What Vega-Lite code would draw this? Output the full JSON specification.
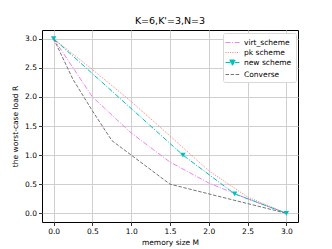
{
  "$schema": "https://vega.github.io/schema/vega-lite/v6.json",
  "width": 256,
  "height": 192,
  "autosize": {"type": "none"},
  "padding": {"left": 42, "top": 30, "right": 34, "bottom": 27},
  "background": "white",
  "title": {"text": "K=6,K'=3,N=3", "fontSize": 9.5, "fontWeight": "normal", "font": "DejaVu Sans", "color": "#000", "offset": 5},
  "config": {
    "view": {"stroke": "#000", "strokeWidth": 1},
    "axis": {
      "domain": false,
      "grid": true,
      "gridColor": "#cfcfcf",
      "gridWidth": 1,
      "tickColor": "#000",
      "tickSize": 3.5,
      "tickWidth": 0.8,
      "labelFont": "DejaVu Sans",
      "labelFontSize": 7.5,
      "labelColor": "#000",
      "labelPadding": 2,
      "titleFont": "DejaVu Sans",
      "titleFontSize": 7.5,
      "titleFontWeight": "normal",
      "titleColor": "#000"
    },
    "legend": {
      "labelFont": "DejaVu Sans",
      "labelFontSize": 7.5,
      "labelColor": "#000"
    }
  },
  "data": {
    "values": [
      {"M": 0, "R": 3, "series": "virt_scheme"},
      {"M": 0.5, "R": 2.0, "series": "virt_scheme"},
      {"M": 1.0, "R": 1.38, "series": "virt_scheme"},
      {"M": 1.5, "R": 0.88, "series": "virt_scheme"},
      {"M": 2.0, "R": 0.52, "series": "virt_scheme"},
      {"M": 2.5, "R": 0.25, "series": "virt_scheme"},
      {"M": 3.0, "R": 0, "series": "virt_scheme"},
      {"M": 0, "R": 3, "series": "pk scheme"},
      {"M": 0.5, "R": 2.47, "series": "pk scheme"},
      {"M": 1.0, "R": 1.92, "series": "pk scheme"},
      {"M": 1.5, "R": 1.33, "series": "pk scheme"},
      {"M": 2.0, "R": 0.73, "series": "pk scheme"},
      {"M": 2.5, "R": 0.28, "series": "pk scheme"},
      {"M": 3.0, "R": 0, "series": "pk scheme"},
      {"M": 0, "R": 3, "series": "new scheme"},
      {"M": 1.6667, "R": 1.0, "series": "new scheme"},
      {"M": 2.3333, "R": 0.3333, "series": "new scheme"},
      {"M": 3.0, "R": 0, "series": "new scheme"},
      {"M": 0, "R": 3, "series": "Converse"},
      {"M": 0.25, "R": 2.3, "series": "Converse"},
      {"M": 0.5, "R": 1.76, "series": "Converse"},
      {"M": 0.75, "R": 1.25, "series": "Converse"},
      {"M": 1.5, "R": 0.5, "series": "Converse"},
      {"M": 3.0, "R": 0, "series": "Converse"}
    ]
  },
  "encoding": {
    "x": {
      "field": "M", "type": "quantitative",
      "scale": {"domain": [-0.15, 3.15], "nice": false, "zero": false},
      "axis": {"values": [0, 0.5, 1, 1.5, 2, 2.5, 3], "format": ".1f", "title": "memory size M", "titlePadding": 3}
    },
    "y": {
      "field": "R", "type": "quantitative",
      "scale": {"domain": [-0.15, 3.15], "nice": false, "zero": false},
      "axis": {"values": [0, 0.5, 1, 1.5, 2, 2.5, 3], "format": ".1f", "title": "the worst-case load R", "titlePadding": 5}
    }
  },
  "layer": [
    {
      "mark": {"type": "line", "strokeWidth": 1},
      "encoding": {
        "color": {
          "field": "series", "type": "nominal",
          "scale": {"domain": ["virt_scheme", "pk scheme", "new scheme", "Converse"], "range": ["#ee82ee", "#fa8072", "#00bfbf", "#747474"]},
          "legend": {
            "title": null,
            "orient": "none",
            "legendX": 181,
            "legendY": 3,
            "fillColor": "white",
            "strokeColor": "#d8d8d8",
            "cornerRadius": 2,
            "padding": 4,
            "symbolSize": 100,
            "symbolStrokeWidth": 1,
            "symbolType": "M-1.4,0H1.4",
            "rowPadding": 1,
            "labelOffset": 6,
            "encode": {
              "symbols": {
                "update": {
                  "shape": {"signal": "datum.value === 'new scheme' ? 'M-1.4,0H1.4M-0.6,-0.5L0.6,-0.5L0,0.55Z' : 'M-1.4,0H1.4'"},
                  "fill": {"signal": "datum.value === 'new scheme' ? '#00bfbf' : 'transparent'"}
                }
              }
            }
          }
        },
        "strokeDash": {
          "field": "series", "type": "nominal",
          "scale": {"domain": ["virt_scheme", "pk scheme", "new scheme", "Converse"], "range": [[5, 1.6, 1, 1.6], [1, 1.3], [5, 1.6, 1, 1.6], [3.5, 1.6]]},
          "legend": null
        }
      }
    },
    {
      "transform": [{"filter": "datum.series === 'new scheme'"}],
      "mark": {"type": "point", "shape": "triangle-down", "filled": true, "size": 30, "opacity": 1, "color": "#00bfbf"}
    }
  ]
}
